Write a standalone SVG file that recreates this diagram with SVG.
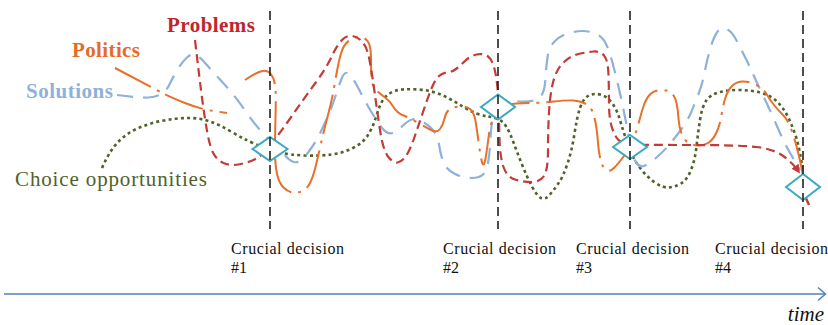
<svg xmlns="http://www.w3.org/2000/svg" width="828" height="325" viewBox="0 0 828 325">
  <style>
    .stream { fill: none; stroke-linecap: butt; stroke-linejoin: round; }
    .problems { stroke: #c23b36; stroke-width: 2.2; stroke-dasharray: 9 5; }
    .politics { stroke: #e8702a; stroke-width: 2; stroke-dasharray: 40 7 3 7; }
    .solutions { stroke: #8eb1dc; stroke-width: 2.2; stroke-dasharray: 16 10; }
    .choice { stroke: #4f6228; stroke-width: 2.6; stroke-dasharray: 3 3.2; }
    .decision { fill: #ffffff; stroke: #3aa9c1; stroke-width: 2; stroke-linejoin: miter; }
    .moment { stroke: #222222; stroke-width: 1.6; stroke-dasharray: 9 5; }
    text { font-family: "Liberation Serif", "Times New Roman", serif; }
    .big { font-size: 21px; font-weight: bold; }
    .caption { font-size: 16px; fill: #111111; }
  </style>
  <defs>
    <marker id="arrowRed" viewBox="0 0 10 10" refX="8" refY="5" markerWidth="4" markerHeight="4" orient="auto">
      <path d="M0,0 L10,5 L0,10 Z" fill="#c23b36"/>
    </marker>
  </defs>

  <!-- the four streams -->
  <g id="streams">
    <path id="choice-stream" class="stream choice" d="M102,168 Q110,150 118.5,141.5 Q127,133 138.5,128 Q150,123 163.5,120.5 Q177,118 188.5,118 Q200,118 210,121.5 Q220,125 230,131 Q240,137 248.5,141 Q257,145 263.5,147.5 Q270,150 280,152.5 Q290,155 305,155.5 Q320,156 331.5,154.5 Q343,153 353,148 Q363,143 368,135 Q373,127 375.5,118.5 Q378,110 381,103.5 Q384,97 389.5,93.5 Q395,90 402.5,89.5 Q410,89 418.5,89.5 Q427,90 435,92.5 Q443,95 450,99 Q457,103 463.5,107 Q470,111 476.5,113.5 Q483,116 488,116.5 Q493,117 498,119 Q503,121 506.5,127 Q510,133 513.5,142.5 Q517,152 522,164.5 Q527,177 532,186.5 Q537,196 541,198 Q545,200 549,195.5 Q553,191 558,184 Q563,177 567.5,163.5 Q572,150 574.5,133.5 Q577,117 580,108 Q583,99 588,96 Q593,93 600,94.5 Q607,96 612,103 Q617,110 619.5,118.5 Q622,127 625,136 Q628,145 631,152.5 Q634,160 640.5,168.5 Q647,177 655,182.5 Q663,188 669,187.5 Q675,187 681,183.5 Q687,180 691,170 Q695,160 696.5,146.5 Q698,133 700,120 Q702,107 706,101 Q710,95 718.5,92.5 Q727,90 738.5,90 Q750,90 760,92.5 Q770,95 776.5,101 Q783,107 788,117 Q793,127 796.5,138.5 Q800,150 803,172"/>
    <path id="solutions-stream" class="stream solutions" d="M117,95 Q140,98 148.5,97.5 Q157,97 162,93.5 Q167,90 170,83.5 Q173,77 177.5,69.5 Q182,62 187,57.5 Q192,53 196,55 Q200,57 206.5,64.5 Q213,72 220,79.5 Q227,87 233.5,95 Q240,103 246.5,112.5 Q253,122 260,130 Q267,138 273.5,144 Q280,150 285,155.5 Q290,161 294,162 Q298,163 301.5,160 Q305,157 311,148.5 Q317,140 320,133.5 Q323,127 327.5,117 Q332,107 335,97.5 Q338,88 341.5,79 Q345,70 349,74 Q353,78 358,87.5 Q363,97 366.5,103.5 Q370,110 376,119.5 Q382,129 385.5,131.5 Q389,134 392.5,133 Q396,132 403,125.5 Q410,119 414,119 Q418,119 424,122.5 Q430,126 434,131.5 Q438,137 439.5,147 Q441,157 444,163.5 Q447,170 455,174 Q463,178 471.5,178 Q480,178 483.5,174 Q487,170 488.5,160 Q490,150 490.5,137.5 Q491,125 493.5,116.5 Q496,108 503,104.5 Q510,101 519,101.5 Q528,102 534,100.5 Q540,99 542.5,93.5 Q545,88 545.5,78 Q546,68 547.5,57.5 Q549,47 554.5,41.5 Q560,36 567.5,33.5 Q575,31 582.5,31 Q590,31 596.5,34 Q603,37 606.5,45 Q610,53 613.5,66.5 Q617,80 620,93.5 Q623,107 625.5,119.5 Q628,132 630.5,145 Q633,158 636.5,163 Q640,168 645,165.5 Q650,163 656.5,157.5 Q663,152 669,145 Q675,138 681.5,129 Q688,120 691.5,111.5 Q695,103 698.5,94 Q702,85 704,75 Q706,65 708.5,55 Q711,45 714,38 Q717,31 720,29 Q723,27 727.5,29.5 Q732,32 736,39.5 Q740,47 745,57 Q750,67 753.5,75 Q757,83 763.5,96.5 Q770,110 776.5,125 Q783,140 786.5,146.5 Q790,153 800,170"/>
    <path id="politics-stream" class="stream politics" d="M115,68 Q153,88 161.5,92.5 Q170,97 185,103 Q200,109 213.5,111 L227,113 M245,80 Q257,72 262.5,71 Q268,70 271.5,75 Q275,80 275.5,90 Q276,100 275.5,117.5 Q275,135 275,150 Q275,165 277,174 Q279,183 283.5,187.5 Q288,192 293,192.5 Q298,193 302.5,191 Q307,189 310,183 Q313,177 315.5,167 Q318,157 321,143.5 Q324,130 328,115 Q332,100 334.5,85 Q337,70 339.5,59 Q342,48 346,43.5 Q350,39 355,37.5 Q360,36 364,38 Q368,40 369.5,45 Q371,50 371,60 Q371,70 371.5,78 Q372,86 376,90 Q380,94 385,97.5 Q390,101 393.5,107 Q397,113 403.5,115.5 Q410,118 417.5,122.5 Q425,127 431,130 Q437,133 440,129 Q443,125 444.5,118.5 Q446,112 449.5,109.5 Q453,107 459.5,106.5 Q466,106 470,109 Q474,112 475.5,121 Q477,130 479,145 Q481,160 482.5,163.5 Q484,167 485.5,158.5 Q487,150 488.5,137.5 Q490,125 494,116 Q498,107 506.5,105 Q515,103 527.5,103 Q540,103 553.5,101.5 Q567,100 573.5,100.5 Q580,101 585,103.5 Q590,106 592,110.5 Q594,115 595.5,122.5 Q597,130 598,142.5 Q599,155 601,161.5 Q603,168 606.5,170 Q610,172 614,168 Q618,164 624,156 Q630,148 633.5,139 Q637,130 639.5,120 Q642,110 644.5,103.5 Q647,97 651,93.5 Q655,90 661.5,90 Q668,90 671.5,93 Q675,96 676.5,103 Q678,110 678.5,118.5 Q679,127 681.5,133.5 Q684,140 688,142.5 Q692,145 697.5,145.5 Q703,146 708,143 Q713,140 716.5,132.5 Q720,125 721.5,115 Q723,105 725.5,97.5 Q728,90 732,86 Q736,82 742,81.5 Q748,81 755.5,84.5 Q763,88 766.5,94 Q770,100 774,105 Q778,110 783,115 Q788,120 791.5,130 Q795,140 797.5,150 Q800,160 803,175"/>
    <path id="problems-stream" class="stream problems" marker-end="url(#arrowRed)" d="M195,40 Q200,83 202.5,101.5 Q205,120 207.5,133.5 Q210,147 213.5,153.5 Q217,160 223.5,163 Q230,166 238.5,164.5 Q247,163 254.5,159.5 Q262,156 271,144.5 Q280,133 291.5,116.5 Q303,100 315,83.5 Q327,67 332,56 Q337,45 342,40 Q347,35 352.5,36 Q358,37 362.5,42 Q367,47 369.5,60 Q372,73 374.5,91.5 Q377,110 380,130 Q383,150 388,156.5 Q393,163 397.5,162.5 Q402,162 406,156 Q410,150 414,138.5 Q418,127 423,112 Q428,97 431.5,88.5 Q435,80 438.5,76.5 Q442,73 447,72.5 Q452,72 456,69 Q460,66 465,61 Q470,56 476.5,54.5 Q483,53 488,56.5 Q493,60 495.5,73.5 Q498,87 498.5,103.5 Q499,120 499.5,138.5 Q500,157 503.5,167 Q507,177 515,179.5 Q523,182 531.5,182 Q540,182 544,176 Q548,170 548,150 Q548,130 549,112.5 Q550,95 553,82.5 Q556,70 563,63 Q570,56 578.5,54 Q587,52 593.5,51.5 Q600,51 604,55.5 Q608,60 608.5,75 Q609,90 609,103.5 Q609,117 611.5,126 Q614,135 618,139.5 Q622,144 631,144.5 Q640,145 690,145 Q740,145 756.5,147 Q773,149 782.5,155.5 Q792,162 799,172"/>
    <path id="problems-tail" class="stream" d="M805,196 L809,205" stroke="#c23b36" stroke-width="2.4"/>
  </g>

  <!-- decision points -->
  <g id="decisions">
    <g id="decision-1"><path class="decision" d="M252.5,149 L270,137 L287.5,149 L270,161 Z"/></g>
    <g id="decision-2"><path class="decision" d="M481,107 L498,94.5 L515,107 L498,119.5 Z"/></g>
    <g id="decision-3"><path class="decision" d="M613,147 L630,135 L647,147 L630,159 Z"/></g>
    <g id="decision-4"><path class="decision" d="M786,187 L803,174 L820,187 L803,200 Z"/></g>
  </g>

  <!-- moments of decision -->
  <g id="moments">
    <line class="moment" x1="270" y1="11" x2="270" y2="229"/>
    <line class="moment" x1="498" y1="11" x2="498" y2="229"/>
    <line class="moment" x1="630" y1="11" x2="630" y2="229"/>
    <line class="moment" x1="803" y1="11" x2="803" y2="229"/>
  </g>

  <!-- stream labels -->
  <g id="labels" font-family="'Liberation Serif', 'Times New Roman', serif">
    <text id="label-problems" class="big" x="167" y="32" fill="#c0272d" textLength="88">Problems</text>
    <text id="label-politics" class="big" x="72" y="57" fill="#e46c2a" textLength="68">Politics</text>
    <text id="label-solutions" class="big" x="26" y="98" fill="#8eb1dc" textLength="87">Solutions</text>
    <text id="label-choice" x="15" y="186" font-size="21" fill="#4f6228" textLength="192">Choice opportunities</text>
  </g>

  <!-- decision captions -->
  <g id="captions" class="caption" font-family="'Liberation Serif', 'Times New Roman', serif">
    <text x="231" y="254" textLength="113">Crucial decision</text>
    <text x="231" y="273">#1</text>
    <text x="443" y="254" textLength="113">Crucial decision</text>
    <text x="443" y="273">#2</text>
    <text x="576" y="254" textLength="113">Crucial decision</text>
    <text x="576" y="273">#3</text>
    <text x="715" y="254" textLength="113">Crucial decision</text>
    <text x="715" y="273">#4</text>
  </g>

  <!-- time axis -->
  <g id="time-axis">
    <line x1="4" y1="294" x2="825" y2="294" stroke="#4f81bd" stroke-width="1.5"/>
    <path d="M818,287.5 L825.5,294 L818,300.5" fill="none" stroke="#4f81bd" stroke-width="1.5"/>
    <text x="824" y="321" font-size="21" font-style="italic" text-anchor="end" fill="#111111">time</text>
  </g>
</svg>
